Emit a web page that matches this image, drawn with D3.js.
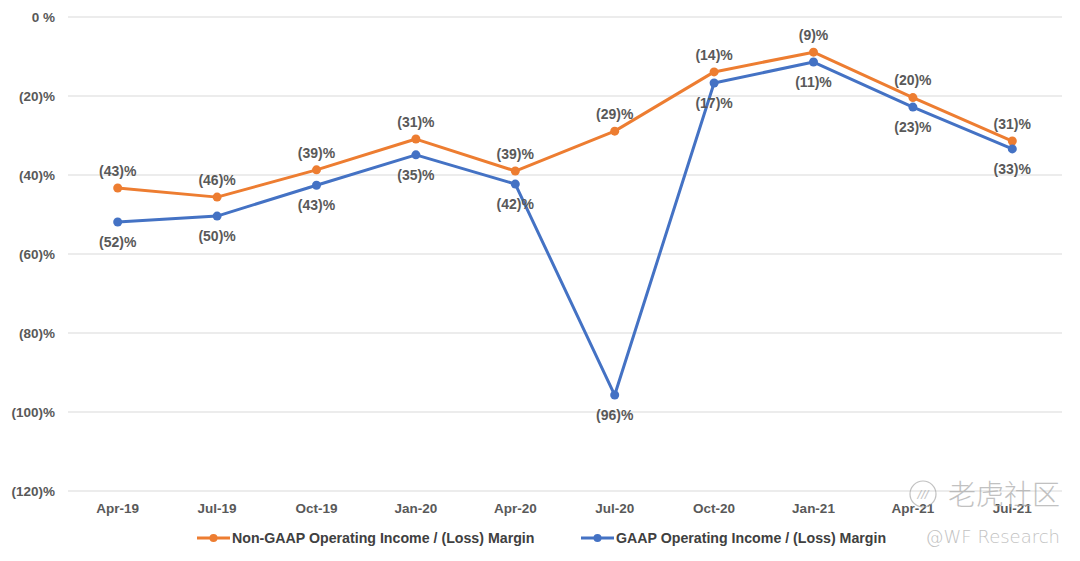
<!DOCTYPE html>
<html>
<head>
<meta charset="utf-8">
<script src="https://cdn.jsdelivr.net/npm/d3@7"></script>
<style>
  html, body { margin: 0; padding: 0; background: #fff; }
  svg { display: block; }
</style>
</head>
<body>
<div id="chart"></div>
<script>
// ── Data ────────────────────────────────────────────────────────────────
const quarters = ["Apr-19", "Jul-19", "Oct-19", "Jan-20", "Apr-20",
                  "Jul-20", "Oct-20", "Jan-21", "Apr-21", "Jul-21"];

// margins in %, negative = loss
const nonGaapMargin = [-43.3, -45.6, -38.7, -30.9, -39.0, -28.9, -13.9, -8.9, -20.4, -31.4];
const gaapMargin    = [-51.9, -50.4, -42.6, -34.9, -42.3, -95.7, -16.7, -11.4, -22.8, -33.4];

const yTicks = [0, -20, -40, -60, -80, -100, -120];

const seriesNames = ["Non-GAAP Operating Income / (Loss) Margin",
                     "GAAP Operating Income / (Loss) Margin"];

// ── Layout ──────────────────────────────────────────────────────────────
const W = 1080, H = 561;
const plot = { left: 68, right: 1062, top: 17, bottom: 491 };
const colors = { orange: "#ED7D31", blue: "#4472C4", grid: "#d9d9d9", text: "#595959" };
const font = "'Liberation Sans', Arial, Helvetica, sans-serif";

const svg = d3.select("#chart").append("svg")
  .attr("width", W)
  .attr("height", H)
  .style("font-family", font);

const x = d3.scaleBand()
  .domain(quarters)
  .range([plot.left, plot.right]);

const y = d3.scaleLinear()
  .domain([-120, 0])
  .range([plot.bottom, plot.top]);

const fmtTick = v => v === 0 ? "0 %" : `(${Math.abs(v)})%`;
const fmtLabel = v => `(${Math.round(Math.abs(v))})%`;

// ── Grid + y labels ─────────────────────────────────────────────────────
svg.append("g")
  .selectAll("line")
  .data(yTicks)
  .join("line")
    .attr("x1", plot.left).attr("x2", plot.right)
    .attr("y1", d => y(d)).attr("y2", d => y(d))
    .attr("stroke", colors.grid)
    .attr("stroke-width", 1);

svg.append("g")
  .selectAll("text")
  .data(yTicks)
  .join("text")
    .attr("x", 55)
    .attr("y", d => y(d))
    .attr("dy", "0.35em")
    .attr("text-anchor", "end")
    .attr("fill", colors.text)
    .attr("font-size", "13.5px")
    .attr("font-weight", "bold")
    .text(fmtTick);

// ── x labels ────────────────────────────────────────────────────────────
svg.append("g")
  .selectAll("text")
  .data(quarters)
  .join("text")
    .attr("x", d => x(d) + x.bandwidth() / 2)
    .attr("y", 508)
    .attr("dy", "0.35em")
    .attr("text-anchor", "middle")
    .attr("fill", colors.text)
    .attr("font-size", "13.5px")
    .attr("font-weight", "bold")
    .text(d => d);

// ── Series ──────────────────────────────────────────────────────────────
const cx = (d, i) => x(quarters[i]) + x.bandwidth() / 2;

const line = d3.line()
  .x(cx)
  .y(d => y(d));

function drawSeries(values, color) {
  const g = svg.append("g");
  g.append("path")
    .datum(values)
    .attr("d", line)
    .attr("fill", "none")
    .attr("stroke", color)
    .attr("stroke-width", 3)
    .attr("stroke-linejoin", "round");
  g.selectAll("circle")
    .data(values)
    .join("circle")
      .attr("cx", cx)
      .attr("cy", d => y(d))
      .attr("r", 4.5)
      .attr("fill", color);
  return g;
}

drawSeries(nonGaapMargin, colors.orange);
drawSeries(gaapMargin, colors.blue);

// data labels: Non-GAAP above, GAAP below
function drawLabels(values, offset) {
  svg.append("g")
    .selectAll("text")
    .data(values)
    .join("text")
      .attr("x", cx)
      .attr("y", d => y(d) + offset)
      .attr("dy", "0.35em")
      .attr("text-anchor", "middle")
      .attr("fill", colors.text)
      .attr("font-size", "14px")
      .attr("font-weight", "bold")
      .text(fmtLabel);
}
drawLabels(nonGaapMargin, -17);
drawLabels(gaapMargin, 20);

// ── Legend ──────────────────────────────────────────────────────────────
const legendItems = [
  { name: seriesNames[0], color: colors.orange, x: 197 },
  { name: seriesNames[1], color: colors.blue,   x: 581 },
];
const legendY = 538;

const lg = svg.append("g")
  .selectAll("g")
  .data(legendItems)
  .join("g")
    .attr("transform", d => `translate(${d.x},${legendY})`);

lg.append("line")
  .attr("x1", 0).attr("x2", 33)
  .attr("stroke", d => d.color)
  .attr("stroke-width", 3);
lg.append("circle")
  .attr("cx", 16.5).attr("r", 4)
  .attr("fill", d => d.color);
lg.append("text")
  .attr("x", 35)
  .attr("dy", "0.35em")
  .attr("fill", "#404040")
  .attr("font-size", "14.2px")
  .attr("font-weight", "bold")
  .text(d => d.name);

// ── Watermark ───────────────────────────────────────────────────────────
const wm = svg.append("g").attr("opacity", 0.7);
wm.append("circle")
  .attr("cx", 923).attr("cy", 494).attr("r", 13)
  .attr("fill", "none")
  .attr("stroke", "#a8a8a8")
  .attr("stroke-width", 1.2);
wm.append("text")
  .attr("x", 923).attr("y", 494)
  .attr("dy", "0.35em")
  .attr("text-anchor", "middle")
  .attr("fill", "#a8a8a8")
  .attr("font-size", "13px")
  .attr("font-style", "italic")
  .text("///");
wm.append("text")
  .attr("x", 1060).attr("y", 495)
  .attr("dy", "0.35em")
  .attr("text-anchor", "end")
  .attr("fill", "#a8a8a8")
  .attr("font-size", "28px")
  .attr("font-family", "'Noto Sans CJK SC', sans-serif")
  .attr("font-weight", 300)
  .text("老虎社区");
wm.append("text")
  .attr("x", 1060).attr("y", 537)
  .attr("dy", "0.35em")
  .attr("text-anchor", "end")
  .attr("fill", "#a8a8a8")
  .attr("font-size", "18px")
  .attr("font-family", "'DejaVu Sans', sans-serif")
  .attr("font-weight", 300)
  .text("@WF Research");
</script>
</body>
</html>
